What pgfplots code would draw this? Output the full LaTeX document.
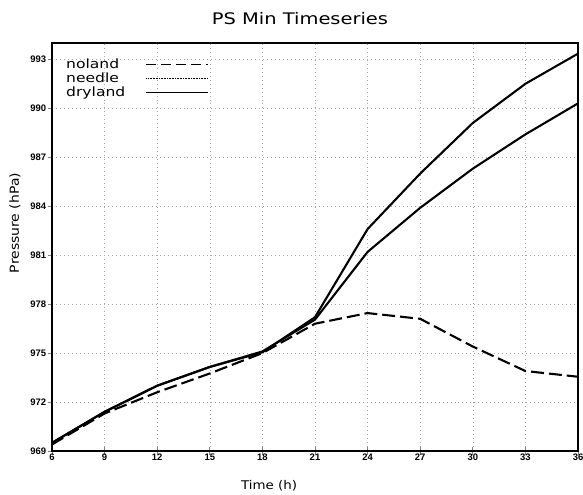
\documentclass[border=0pt]{standalone}
\usepackage{pgfplots}
\pgfplotsset{compat=1.18}
\usepackage{fontspec}
\setmainfont{DejaVu Sans}
\newfontfamily\grads[FakeStretch=1.22]{DejaVu Sans}
\newfontfamily\gradsl[FakeStretch=1.12]{DejaVu Sans}
\newfontfamily\tickfont{Liberation Sans}
\begin{document}
\begin{tikzpicture}[x=1bp,y=1bp]
\path[use as bounding box] (0,0) rectangle (583,495);
\begin{axis}[
  at={(52bp,44bp)}, anchor=south west,
  scale only axis, width=526bp, height=408bp,
  xmin=6, xmax=36, ymin=969, ymax=994,
  xtick={6,9,...,36}, ytick={969,972,...,993},
  tick pos=left,
  xtick align=center, ytick align=outside,
  xtick style={line width=0.8pt, /pgfplots/major tick length=8bp},
  ytick style={line width=0.8pt, /pgfplots/major tick length=4bp},
  axis line style={line width=1.8pt},
  grid=major,
  grid style={gray!70, line width=0.6pt, dash pattern=on 0.8pt off 3.2pt},
  tick label style={font=\tickfont\bfseries\fontsize{9.5}{10}\selectfont},
  /pgf/number format/assume math mode=true,
  /pgf/number format/1000 sep={},
  xticklabel style={yshift=3bp},
  yticklabel style={xshift=2bp},
  legend style={at={(0,1)}, xshift=14bp, yshift=-16bp, anchor=north west, draw=none, fill=none,
    font=\grads\fontsize{12.8}{14}\selectfont, row sep=0pt, inner sep=0pt,
    nodes={inner sep=0pt, text height=9.5bp, text depth=4.5bp}},
  legend cell align=left,
  legend plot pos=right,
]
\addplot[black, line width=2.1pt, dash pattern=on 13pt off 5pt,
  legend image code/.code={\path (0bp,0bp); \draw[black, line width=0.7pt, dash pattern=on 10bp off 5bp] (20bp,1.5bp) -- (82bp,1.5bp);}] coordinates {
(6,969.4) (9,971.3) (12,972.6) (15,973.75) (18,975.0) (21,976.8) (24,977.45) (27,977.1) (30,975.4) (33,973.9) (36,973.55)};
\addlegendentry{noland}
\addplot[black, line width=2.1pt,
  legend image code/.code={\path (0bp,0bp); \draw[black, line width=0.6pt, dash pattern=on 0.8pt off 0.8pt] (20bp,1.5bp) -- (82bp,1.5bp);}] coordinates {
(6,969.5) (9,971.4) (12,973.0) (15,974.15) (18,975.05) (21,977.2) (24,982.6) (27,986.0) (30,989.1) (33,991.5) (36,993.35)};
\addlegendentry{needle}
\addplot[black, line width=2.1pt,
  legend image code/.code={\path (0bp,0bp); \draw[black, line width=0.7pt] (20bp,1.5bp) -- (82bp,1.5bp);}] coordinates {
(6,969.5) (9,971.4) (12,973.0) (15,974.15) (18,975.1) (21,977.05) (24,981.2) (27,983.9) (30,986.3) (33,988.4) (36,990.3)};
\addlegendentry{dryland}
\end{axis}
\node[font=\grads\fontsize{16}{16}\selectfont] at (300,476) {PS Min Timeseries};
\node[font=\gradsl\fontsize{12}{12}\selectfont] at (269,9) {Time (h)};
\node[font=\gradsl\fontsize{12.5}{12}\selectfont, rotate=90] at (15,272) {Pressure (hPa)};
\end{tikzpicture}
\end{document}
